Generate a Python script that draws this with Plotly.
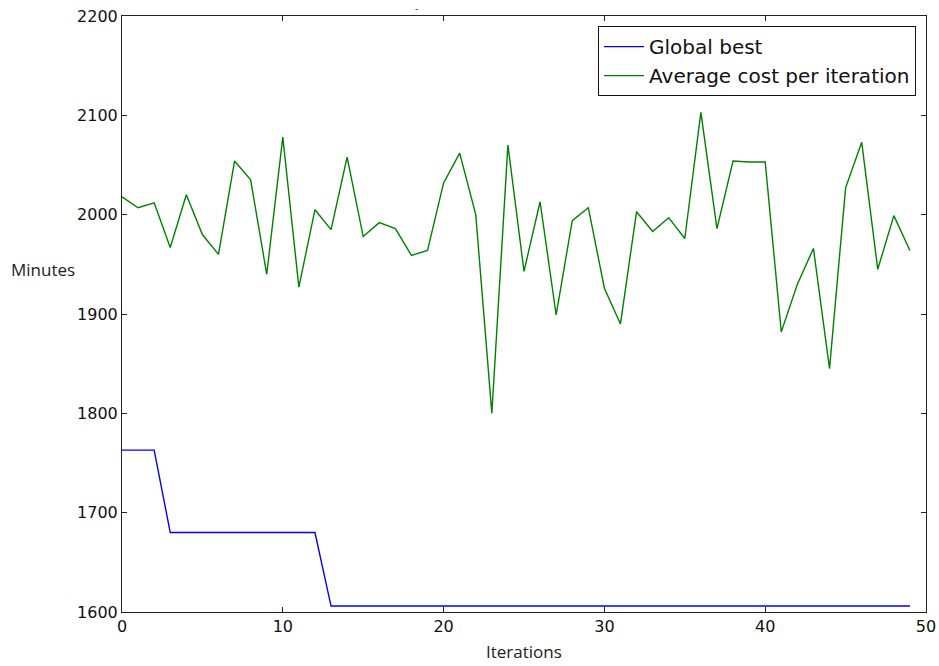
import plotly.graph_objects as go

iterations = list(range(50))
global_best = [1763, 1763, 1763] + [1680] * 10 + [1606] * 37
average_cost = [
    2018, 2007, 2012, 1967, 2020, 1980, 1960, 2054, 2035, 1940,
    2078, 1927, 2005, 1985, 2058, 1978, 1992, 1986, 1959, 1964,
    2032, 2062, 2000, 1800, 2070, 1943, 2013, 1899, 1994, 2007,
    1926, 1890, 2003, 1983, 1997, 1976, 2103, 1986, 2054, 2053,
    2053, 1882, 1930, 1966, 1845, 2027, 2073, 1945, 1999, 1964,
]
x_ticks = [0, 10, 20, 30, 40, 50]
y_ticks = [1600, 1700, 1800, 1900, 2000, 2100, 2200]

fig = go.Figure()
fig.add_trace(go.Scatter(x=iterations, y=global_best, mode="lines",
                         name="Global best", line=dict(color="#0000ff", width=1.4)))
fig.add_trace(go.Scatter(x=iterations, y=average_cost, mode="lines",
                         name="Average cost per iteration", line=dict(color="#008000", width=1.4)))

axis_common = dict(showline=True, linecolor="#222", linewidth=1, mirror="ticks",
                   ticks="inside", ticklen=5, tickcolor="#222", showgrid=False,
                   zeroline=False, automargin=False,
                   tickfont=dict(family="DejaVu Sans", size=16, color="#111"))

fig.update_layout(
    width=939, height=666,
    margin=dict(l=122, r=13, t=16, b=54),
    plot_bgcolor="white", paper_bgcolor="white",
    xaxis=dict(range=[0, 50], tickvals=x_ticks, **axis_common),
    yaxis=dict(range=[1600, 2200], tickvals=y_ticks, **axis_common),
    showlegend=True,
    legend=dict(x=0.9876, y=0.983, xanchor="right", yanchor="top",
                bordercolor="#111", borderwidth=1, bgcolor="white",
                font=dict(family="DejaVu Sans", size=20, color="#111"),
                tracegroupgap=0, itemwidth=40),
    annotations=[
        dict(text="Minutes", x=-0.0977, y=0.574, xref="paper", yref="paper",
             xanchor="center", yanchor="middle", showarrow=False,
             font=dict(family="Open Sans", size=17, color="#222")),
        dict(text="Iterations", x=0.5, y=-0.067, xref="paper", yref="paper",
             xanchor="center", yanchor="middle", showarrow=False,
             font=dict(family="Open Sans", size=17, color="#222")),
        dict(text="-", x=0.366, y=1.0, xref="paper", yref="paper",
             xanchor="center", yanchor="bottom", showarrow=False,
             font=dict(family="DejaVu Sans", size=9, color="#222")),
    ],
)

fig.write_html("out.html", config={"displayModeBar": False},
               post_script="document.body.style.margin='0';document.body.style.overflow='hidden';")
